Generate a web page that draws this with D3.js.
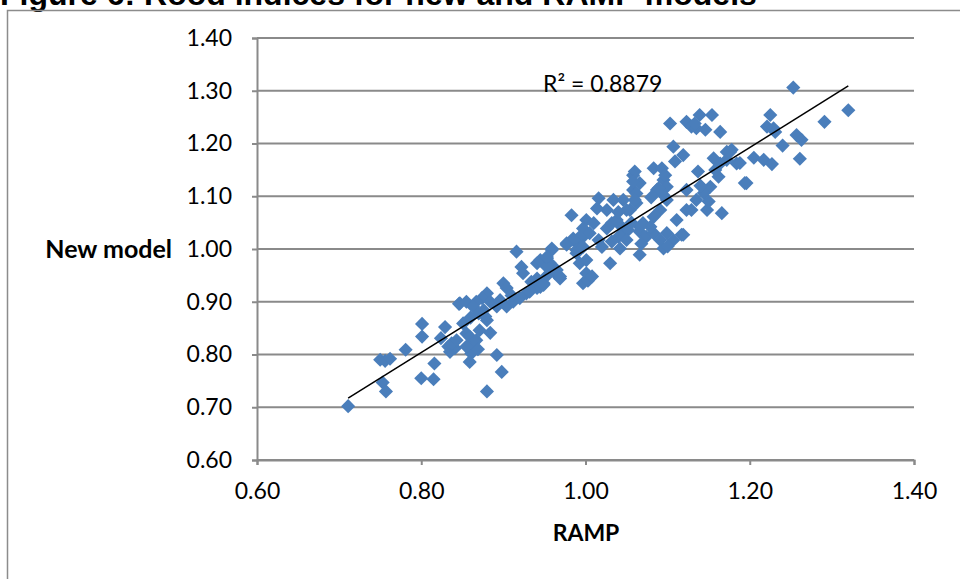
<!DOCTYPE html>
<html>
<head>
<meta charset="utf-8">
<script src="https://cdn.jsdelivr.net/npm/d3@7"></script>
<style>
  body { margin: 0; background: #fff; }
  svg { display: block; }
</style>
</head>
<body>
<div id="chart"></div>
<script>
// valores (RAMP no eixo x, novo modelo no eixo y)
const ramp = [
  0.711, 0.750, 0.756, 0.762, 0.753, 0.757, 0.781, 0.801, 0.801, 0.800,
  0.815, 0.816, 0.829, 0.824, 0.833, 0.835, 0.841, 0.846, 0.851, 0.855,
  0.861, 0.859, 0.884, 0.892, 0.880, 0.898, 0.837, 0.843, 0.859, 0.863,
  0.855, 0.867, 0.871, 0.880, 0.869, 0.880, 0.874, 0.867, 0.847, 0.855,
  0.863, 0.876, 0.884, 0.892, 0.870, 0.860, 0.878, 0.904, 0.912, 0.920,
  0.928, 0.932, 0.941, 0.945, 0.949, 0.941, 0.934, 0.900, 0.904, 0.916,
  0.922, 0.924, 0.941, 0.945, 0.953, 0.959, 0.957, 0.965, 0.969, 0.963,
  0.977, 0.985, 0.993, 0.997, 0.989, 0.993, 1.001, 0.997, 1.001, 0.910,
  0.896, 0.952, 0.958, 0.983, 1.016, 1.034, 1.026, 1.014, 1.001, 0.997,
  1.005, 1.010, 0.993, 0.985, 0.977, 0.989, 0.997, 1.026, 1.032, 1.038,
  1.044, 1.040, 1.032, 1.020, 1.016, 1.042, 1.046, 1.052, 1.050, 1.030,
  1.066, 1.003, 1.008, 0.969, 0.963, 0.953, 0.949, 0.959, 0.953, 1.054,
  1.062, 1.058, 1.066, 1.058, 1.087, 1.095, 1.099, 1.091, 1.083, 1.070,
  1.066, 1.074, 1.083, 1.091, 1.099, 1.095, 1.111, 1.119, 1.123, 1.123,
  1.103, 1.123, 1.129, 1.135, 1.139, 1.146, 1.154, 1.164, 1.133, 1.107,
  1.119, 1.109, 1.083, 1.093, 1.097, 1.099, 1.095, 1.089, 1.060, 1.058,
  1.062, 1.060, 1.046, 1.137, 1.156, 1.164, 1.172, 1.178, 1.184, 1.162,
  1.152, 1.144, 1.135, 1.129, 1.148, 1.166, 1.194, 1.117, 1.107, 1.079,
  1.066, 1.050, 1.253, 1.320, 1.291, 1.225, 1.221, 1.229, 1.231, 1.257,
  1.263, 1.240, 1.261, 1.205, 1.217, 1.227, 1.196, 1.188, 1.176, 1.172,
  1.150, 1.158, 1.140, 1.100, 1.068, 1.056, 1.080, 1.040
];
const newModel = [
  0.702, 0.790, 0.788, 0.792, 0.747, 0.730, 0.809, 0.858, 0.834, 0.755,
  0.753, 0.783, 0.852, 0.831, 0.815, 0.805, 0.812, 0.896, 0.859, 0.840,
  0.802, 0.786, 0.841, 0.799, 0.730, 0.767, 0.821, 0.827, 0.834, 0.821,
  0.815, 0.827, 0.846, 0.865, 0.810, 0.916, 0.907, 0.900, 0.897, 0.900,
  0.891, 0.884, 0.900, 0.891, 0.878, 0.870, 0.872, 0.891, 0.900, 0.907,
  0.916, 0.919, 0.926, 0.928, 0.935, 0.944, 0.938, 0.935, 0.926, 0.995,
  0.966, 0.954, 0.973, 0.979, 0.982, 1.001, 0.973, 0.960, 0.944, 0.954,
  1.011, 1.020, 1.008, 1.023, 0.992, 0.973, 0.979, 0.935, 0.954, 0.912,
  0.903, 0.948, 0.966, 1.064, 1.096, 1.093, 1.074, 1.077, 1.055, 1.039,
  1.030, 1.049, 1.023, 1.017, 1.008, 0.998, 1.004, 1.039, 1.049, 1.055,
  1.042, 1.023, 1.014, 1.004, 1.017, 1.001, 1.030, 1.036, 1.017, 0.973,
  0.989, 0.940, 0.948, 0.948, 0.960, 0.966, 0.932, 0.998, 0.985, 1.074,
  1.087, 1.112, 1.125, 1.140, 1.112, 1.131, 1.093, 1.074, 1.061, 1.049,
  1.033, 1.023, 1.030, 1.017, 1.030, 1.001, 1.055, 1.027, 1.074, 1.112,
  1.238, 1.241, 1.232, 1.229, 1.254, 1.226, 1.254, 1.222, 1.238, 1.194,
  1.178, 1.166, 1.153, 1.153, 1.140, 1.118, 1.102, 1.115, 1.147, 1.128,
  1.105, 1.093, 1.093, 1.147, 1.172, 1.162, 1.184, 1.188, 1.162, 1.137,
  1.118, 1.106, 1.093, 1.074, 1.074, 1.068, 1.125, 1.027, 1.017, 1.042,
  1.042, 1.074, 1.306, 1.263, 1.241, 1.254, 1.232, 1.229, 1.222, 1.216,
  1.207, 1.196, 1.171, 1.173, 1.169, 1.161, 1.125, 1.163, 1.184, 1.169,
  1.090, 1.150, 1.120, 1.005, 1.010, 1.050, 1.098, 1.070
];
const tickValues = [0.60, 0.70, 0.80, 0.90, 1.00, 1.10, 1.20, 1.30, 1.40];
const xTickValues = [0.60, 0.80, 1.00, 1.20, 1.40];
// linha de tendencia linear como aparece no grafico
const trendX = [0.711, 1.320];
const trendSlope = 0.972;
const trendIntercept = 0.026;
const rSquared = "R² = 0.8879";

const width = 960, height = 579;
const plotLeft = 257, plotRight = 914, plotTop = 38, plotBottom = 460;

const svg = d3.select("#chart").append("svg")
    .attr("width", width)
    .attr("height", height);

// titulo cortado no topo (como na imagem original)
svg.append("text")
    .attr("x", 0)
    .attr("y", 5)
    .attr("font-family", "'Liberation Sans', Arial, sans-serif")
    .attr("font-weight", "bold")
    .attr("font-size", 32)
    .attr("fill", "#000")
    .text("Figure 6: Rood indices for new and RAMP models");

// moldura do grafico
svg.append("rect")
    .attr("x", 7.5)
    .attr("y", 10.5)
    .attr("width", 1000)
    .attr("height", 1000)
    .attr("fill", "none")
    .attr("stroke", "#8c8c8c")
    .attr("stroke-width", 1.5);

const x = d3.scaleLinear().domain([0.6, 1.4]).range([plotLeft, plotRight]);
const y = d3.scaleLinear().domain([0.6, 1.4]).range([plotBottom, plotTop]);

const fmt = d3.format(".2f");
const tickFont = "Lato, 'Open Sans', sans-serif";

// grelha horizontal
svg.append("g")
    .selectAll("line")
    .data(tickValues)
    .enter()
    .append("line")
    .attr("x1", plotLeft)
    .attr("x2", plotRight)
    .attr("y1", d => y(d))
    .attr("y2", d => y(d))
    .attr("stroke", "#8a8a8a")
    .attr("stroke-width", 2);

const yAxis = svg.append("g")
    .attr("transform", `translate(${plotLeft},0)`)
    .call(d3.axisLeft(y).tickValues(tickValues).tickFormat(fmt).tickSize(5).tickPadding(20));

const xAxis = svg.append("g")
    .attr("transform", `translate(0,${plotBottom})`)
    .call(d3.axisBottom(x).tickValues(xTickValues).tickFormat(fmt).tickSize(5).tickPadding(18));

[yAxis, xAxis].forEach(ax => {
    ax.select(".domain").attr("stroke", "#8a8a8a").attr("stroke-width", 2);
    ax.selectAll(".tick line").attr("stroke", "#8a8a8a").attr("stroke-width", 2);
    ax.selectAll(".tick text")
        .attr("font-family", tickFont)
        .attr("font-size", 23)
        .attr("fill", "#000");
});

// pontos em losango
const diamond = d3.symbol().type(d3.symbolSquare).size(100);
const points = ramp.map((r, i) => ({ r, n: newModel[i] }));

svg.append("g")
    .selectAll("path")
    .data(points)
    .enter()
    .append("path")
    .attr("d", diamond)
    .attr("transform", d => `translate(${x(d.r)},${y(d.n)}) rotate(45)`)
    .attr("fill", "#4a7ebb");

// linha de tendencia
svg.append("line")
    .attr("x1", x(trendX[0]))
    .attr("y1", y(trendSlope * trendX[0] + trendIntercept))
    .attr("x2", x(trendX[1]))
    .attr("y2", y(trendSlope * trendX[1] + trendIntercept))
    .attr("stroke", "#000")
    .attr("stroke-width", 1.5);

svg.append("text")
    .attr("x", 543)
    .attr("y", 92)
    .attr("font-family", tickFont)
    .attr("font-size", 23)
    .attr("fill", "#000")
    .text(rSquared);

// titulos dos eixos
svg.append("text")
    .attr("x", 172)
    .attr("y", 249)
    .attr("dy", "0.35em")
    .attr("text-anchor", "end")
    .attr("font-family", tickFont)
    .attr("font-weight", "bold")
    .attr("font-size", 25)
    .text("New model");

svg.append("text")
    .attr("x", 586)
    .attr("y", 533)
    .attr("dy", "0.35em")
    .attr("text-anchor", "middle")
    .attr("font-family", tickFont)
    .attr("font-weight", "bold")
    .attr("font-size", 23)
    .text("RAMP");
</script>
</body>
</html>
